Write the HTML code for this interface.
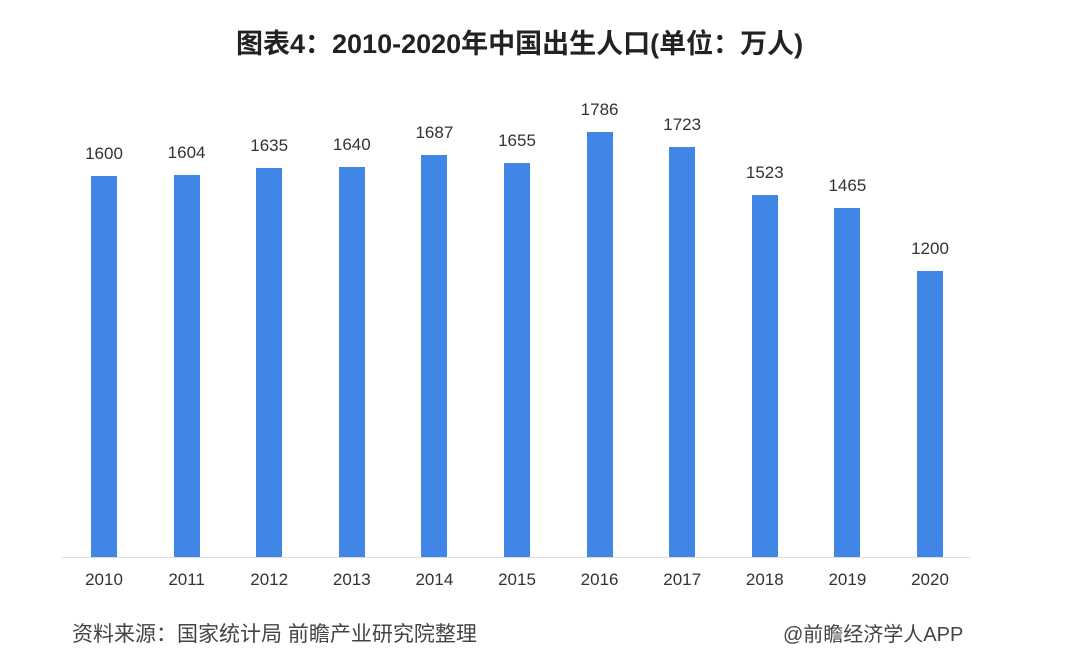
<!DOCTYPE html>
<html><head><meta charset="utf-8"><style>
body{margin:0;background:#fff;}
#c{position:relative;width:1080px;height:663px;overflow:hidden;font-family:"Liberation Sans","Noto Sans CJK SC",sans-serif;}
.t{position:absolute;left:236px;top:22px;white-space:nowrap;font-size:27px;font-weight:bold;color:#222;}
.b{position:absolute;width:26px;background:#3f86e6;}
.v,.x{position:absolute;width:80px;text-align:center;font-size:17px;color:#333;}
.f{position:absolute;top:618px;font-size:21px;color:#444;white-space:nowrap;}
</style></head><body><div id="c">
<div class="t">图表4：2010-2020年中国出生人口(单位：万人)</div>
<div style="position:absolute;left:62px;top:557px;width:908px;height:1px;background:#ddd"></div>
<div id="bars"></div>
<div class="f" style="left:72px">资料来源：国家统计局 前瞻产业研究院整理</div>
<div class="f" style="left:783px;font-size:20px">@前瞻经济学人APP</div>
</div>
<script>
(function(){
var d=[1600,1604,1635,1640,1687,1655,1786,1723,1523,1465,1200],s='';
for(var i=0;i<11;i++){var cx=104+i*82.6,hh=d[i]*0.238,tp=557-hh;
s+='<div class="b" style="left:'+(cx-13)+'px;top:'+tp+'px;height:'+hh+'px"></div>';
s+='<div class="v" style="left:'+(cx-40)+'px;top:'+(tp-32)+'px">'+d[i]+'</div>';
s+='<div class="x" style="left:'+(cx-40)+'px;top:570px">'+(2010+i)+'</div>';}
document.getElementById('bars').innerHTML=s;
})();
</script>
</body></html>
